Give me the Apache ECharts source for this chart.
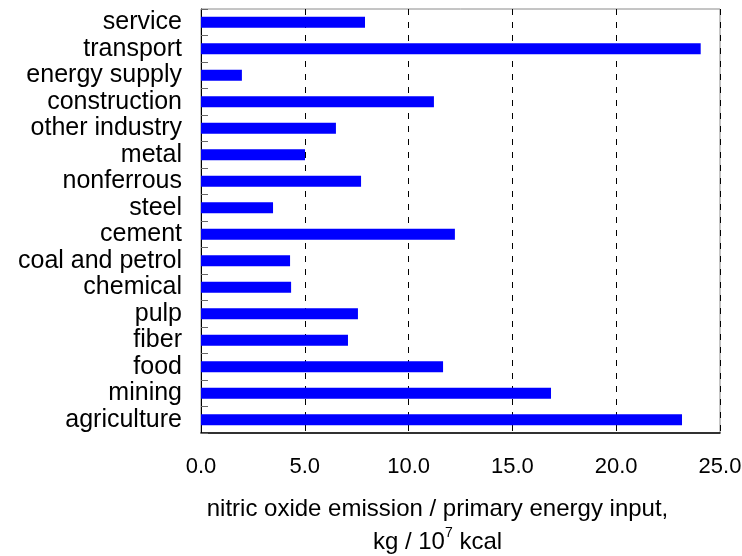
<!DOCTYPE html>
<html>
<head>
<meta charset="utf-8">
<script src="https://cdn.jsdelivr.net/npm/echarts@6/dist/echarts.min.js"></script>
<style>
  html, body { margin: 0; padding: 0; background: #fff; }
  #chart { width: 742px; height: 556px; }
</style>
</head>
<body>
<div id="chart"></div>
<script>
// Sectors, listed from top to bottom
const sectors = [
  'service', 'transport', 'energy supply', 'construction', 'other industry',
  'metal', 'nonferrous', 'steel', 'cement', 'coal and petrol',
  'chemical', 'pulp', 'fiber', 'food', 'mining', 'agriculture'
];

// NO emission per primary energy input, kg / 10^7 kcal
const emission = [
  7.9, 24.07, 1.97, 11.22, 6.5,
  5.01, 7.71, 3.47, 12.23, 4.29,
  4.34, 7.56, 7.08, 11.66, 16.86, 23.17
];

const xMin = 0;
const xMax = 25;
const xStep = 5;

const FONT = 'Liberation Sans, Arial, sans-serif';

const chart = echarts.init(document.getElementById('chart'), null, { renderer: 'canvas' });

chart.setOption({
  animation: false,
  backgroundColor: '#ffffff',
  grid: {
    left: 201, right: 22, top: 9, bottom: 123,
    outerBoundsMode: 'none',
    containLabel: false,
    show: true, borderColor: '#8a8a8a', borderWidth: 1, backgroundColor: 'transparent'
  },
  xAxis: {
    type: 'value',
    min: xMin, max: xMax, interval: xStep,
    axisLine: { show: true, onZero: false, lineStyle: { color: '#000', width: 1.5 } },
    axisTick: { show: false },
    axisLabel: {
      color: '#000', fontFamily: FONT, fontSize: 22, margin: 23,
      formatter: v => v.toFixed(1)
    },
    splitLine: { show: true, lineStyle: { color: '#000', type: [6, 7], width: 1 } },
    name: 'nitric oxide emission / primary energy input,\nkg / 10{sup|7} kcal',
    nameLocation: 'middle',
    nameGap: 60,
    nameTextStyle: {
      color: '#000', fontFamily: FONT, fontSize: 24, lineHeight: 33,
      padding: [0, 46, 0, 0],
      rich: {
        sup: { fontFamily: FONT, fontSize: 14, color: '#000', verticalAlign: 'top', padding: [0, 0, 12, 0] }
      }
    }
  },
  yAxis: {
    type: 'category',
    data: sectors,
    inverse: true,
    axisLine: { show: true, lineStyle: { color: '#000', width: 1 } },
    axisTick: { show: true, inside: true, length: 7, interval: 0, lineStyle: { color: '#666' } },
    axisLabel: { color: '#000', fontFamily: FONT, fontSize: 25, margin: 19, interval: 0 },
    splitLine: { show: false }
  },
  series: [{
    type: 'bar',
    data: emission,
    barWidth: 11,
    itemStyle: { color: '#0000ff' }
  }]
});
</script>
</body>
</html>
